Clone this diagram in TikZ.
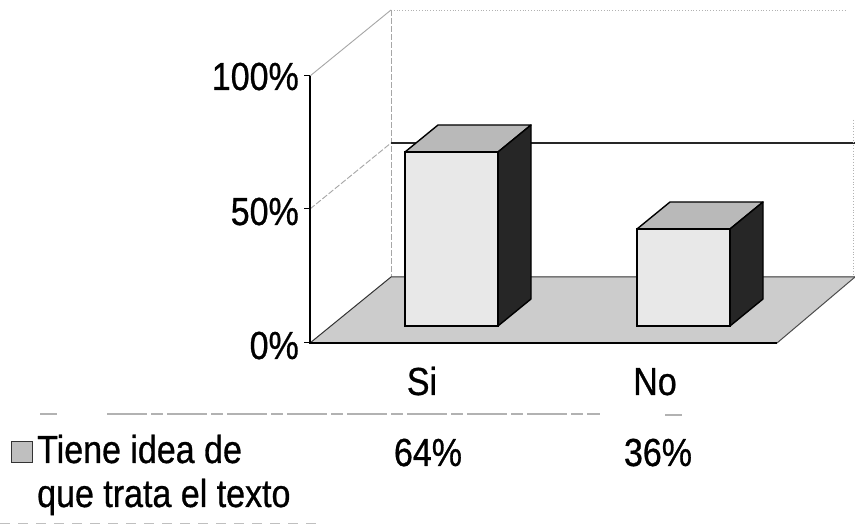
\documentclass[tikz,border=0pt]{standalone}
\usepackage{fontspec}
\setmainfont{Liberation Sans}
\newfontfamily\chartfont{Liberation Sans}[FakeBold=0.8]
\newcommand\stretchtxt[1]{\scalebox{1}[1.15]{#1}}
\begin{document}
\begin{tikzpicture}[x=1pt,y=-1pt,
  lbl/.style={font=\chartfont\fontsize{34}{40}\selectfont, inner sep=0pt},
  gridln/.style={line width=0.9pt, gray!70, dash pattern=on 6pt off 2pt},
  frontface/.style={fill=gray!18, draw=black, line width=1.4pt},
  topface/.style={fill=gray!55, draw=black, line width=1.4pt, line join=round},
  sideface/.style={fill=black!85, draw=black, line width=1.4pt, line join=round},
  tablerule/.style={gray!60, line width=1.3pt},
]
\useasboundingbox (0,0) rectangle (855,526);
\fill[white] (0,0) rectangle (855,526);

% floor
\fill[gray!40] (310,343) -- (777,343) -- (855,277) -- (391,277) -- cycle;
% walls
\draw[gray!60, line width=0.8pt, dotted] (391,10) -- (845,10);
\draw[gray!70, line width=0.9pt] (310,76) -- (391,10);
\draw[gridln] (391,10) -- (391,277);
\draw[gridln] (310,209) -- (391,143);
\draw[line width=1.2pt, black!85] (391,143) -- (855,143);
\draw[gray!60, line width=0.8pt, dotted] (853,120) -- (853,277);
\draw[black!80, line width=1pt] (310,343) -- (391,277) -- (855,277);
\draw[black!70, line width=1pt] (777,343) -- (855,277);
% front axis
\draw[line width=1.3pt] (310,76) -- (310,343) -- (777,343);
\draw[line width=1pt] (304,76) -- (310,76) (304,209) -- (310,209) (304,343) -- (310,343);

% bar Si (64%)
\draw[topface] (405,152) -- (498,152) -- (531,125) -- (438,125) -- cycle;
\draw[sideface] (498,152) -- (531,125) -- (531,299) -- (498,326) -- cycle;
\draw[frontface] (405,152) rectangle (498,326);
% bar No (36%)
\draw[topface] (637,229) -- (730,229) -- (763,202) -- (670,202) -- cycle;
\draw[sideface] (730,229) -- (763,202) -- (763,299) -- (730,326) -- cycle;
\draw[frontface] (637,229) rectangle (730,326);

% axis labels
\node[lbl, anchor=base east] (l100) at (299,90) {\stretchtxt{100\%}};
\node[lbl, anchor=base east] (l50) at (299,225) {\stretchtxt{50\%}};
\node[lbl, anchor=base east] (l0) at (299,359) {\stretchtxt{0\%}};

% category labels
\node[lbl, anchor=base] (csi) at (422,395) {\stretchtxt{Si}};
\node[lbl, anchor=base] (cno) at (655,395) {\stretchtxt{No}};

% table rules
\draw[tablerule] (40,414) -- (57,414);
\draw[tablerule, dash pattern=on 40pt off 4pt on 12pt off 4pt] (107,414) -- (600,414);
\draw[tablerule] (665,415) -- (682,415);
\draw[gray!50, line width=1pt, dash pattern=on 10pt off 8pt] (0,524) -- (320,524);

% legend row
\draw[fill=gray!50, draw=black!80, line width=0.8pt] (11,441) rectangle (32,462);
\node[lbl, anchor=base west] (leg1) at (37,463) {\stretchtxt{Tiene idea de}};
\node[lbl, anchor=base west] (leg2) at (37,507) {\stretchtxt{que trata el texto}};
\node[lbl, anchor=base] (v64) at (428,466) {\stretchtxt{64\%}};
\node[lbl, anchor=base] (v36) at (658,466) {\stretchtxt{36\%}};
\end{tikzpicture}
\end{document}
